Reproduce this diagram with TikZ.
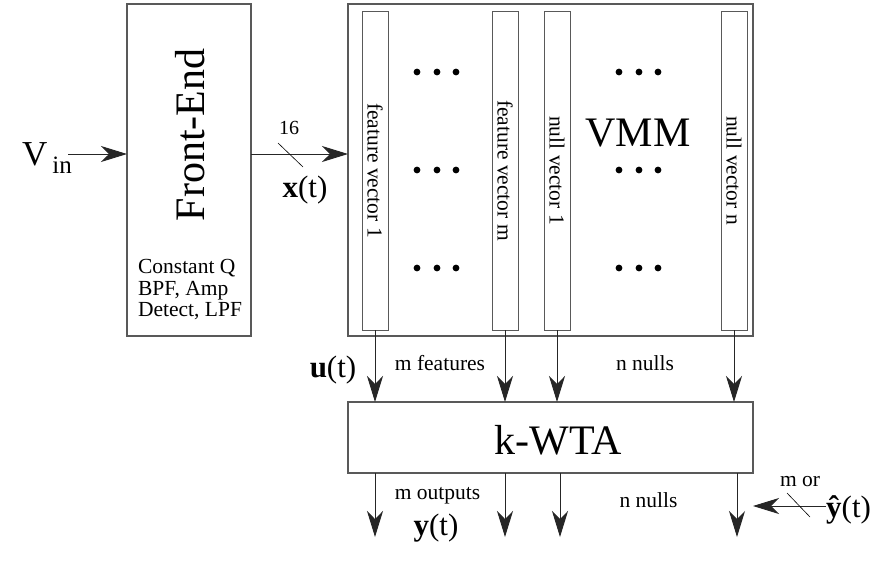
\documentclass[tikz,border=0pt]{standalone}
\usepackage{fontspec}
\setmainfont{Liberation Serif}
\usetikzlibrary{arrows.meta}
\newcommand\fsz[1]{\fontsize{#1}{#1}\selectfont}
\begin{document}
\begin{tikzpicture}[x=1pt,y=-1pt,
  box/.style={draw=black!65, line width=1.1pt, inner sep=0pt, outer sep=0pt},
  bar/.style={draw=black!65, line width=1pt, minimum width=26pt, minimum height=319pt, inner sep=0pt, outer sep=0pt},
  arr/.style={line width=0.9pt, black!85, -{Stealth[length=26pt,width=16pt,inset=8pt]}},
  small/.style={font=\fsz{21.5}, inner sep=0pt},
  big/.style={font=\fsz{42}, inner sep=0pt},
  mid/.style={font=\fsz{31}, inner sep=0pt},
  dot/.style={circle, fill=black, inner sep=0pt, minimum size=6.8pt}
]
\useasboundingbox (0,0) rectangle (896,560);
\fill[white] (0,0) rectangle (896,560);

% Front-End
\node[box, minimum width=124pt, minimum height=332pt] (fe) at (189,170) {};
\node[big, rotate=90] (fet) at (190,135) {Front-End};
\node[small, align=left] (fed) at (190,290) {\fsz{21.5}\baselineskip=23pt Constant Q\\BPF, Amp\\Detect, LPF};

% V_in
\node[inner sep=0pt, anchor=base west, font=\fsz{35}] (vin) at (22,165) {V\hspace{5pt}\raisebox{-8pt}{\fsz{25}in}};
\coordinate (vs) at (68,154);
\draw[arr] (vs) -- (vs -| fe.west);

% VMM
\node[box, minimum width=405pt, minimum height=332pt] (vmm) at (550.5,170) {};
\node[bar] (b1) at (375,170.5) {};
\node[bar] (b2) at (505,170.5) {};
\node[bar] (b3) at (557,170.5) {};
\node[bar] (b4) at (734,170.5) {};
\node[small, rotate=-90] (t1) at (b1) {feature vector 1};
\node[small, rotate=-90] (t2) at (b2) {feature vector m};
\node[small, rotate=-90] (t3) at (b3) {null vector 1};
\node[small, rotate=-90] (t4) at (b4) {null vector n};
\node[big] (vmmt) at (638,133) {VMM};
\foreach \y [count=\i] in {72,170,268}{
  \node[dot] (da\i) at (417,\y) {};
  \node[dot] (db\i) at (437,\y) {};
  \node[dot] (dc\i) at (456,\y) {};
  \node[dot] (dd\i) at (619,\y) {};
  \node[dot] (de\i) at (639,\y) {};
  \node[dot] (df\i) at (658,\y) {};
}

% x(t)
\coordinate (xs) at (fe.east |- 0,154);
\draw[arr] (xs) -- (xs -| vmm.west);
\coordinate (s1) at (278,143);
\coordinate (s2) at (303,167);
\draw[line width=0.6pt] (s1) -- (s2);
\node[font=\fsz{20}, inner sep=0pt] (n16) at (289,128) {16};
\node[mid] (xt) at (305,190) {\textbf{x}(t)};

% k-WTA
\node[box, minimum width=405pt, minimum height=71pt] (wta) at (550.5,437.5) {};
\node[big] (wtat) at (558,440) {k-WTA};

% VMM -> k-WTA
\foreach \b in {b1,b2,b3,b4}{
  \draw[arr] (\b.south) -- (\b.south |- wta.north);
}
\node[mid] (ut) at (333,370) {\textbf{u}(t)};
\node[small] (mf) at (440,363) {m features};
\node[small] (nn1) at (645,363) {n nulls};

% outputs
\coordinate (o1) at (375,537);
\coordinate (o2) at (505,537);
\coordinate (o3) at (560,537);
\coordinate (o4) at (737,537);
\foreach \o in {o1,o2,o3,o4}{
  \draw[arr] (wta.south -| \o) -- (\o);
}
\node[small] (mo) at (437.5,496) {m outputs};
\node[mid] (yt) at (436,528) {\textbf{y}(t)};
\node[small] (nn2) at (648.5,500) {n nulls};

% feedback
\node[mid, anchor=west] (yh) at (826,510) {\textbf{ŷ}(t)};
\coordinate (fb) at (753,506);
\draw[arr] (yh.west |- fb) -- (fb);
\coordinate (s3) at (787,493);
\coordinate (s4) at (810,517);
\draw[line width=0.6pt] (s3) -- (s4);
\node[small] (mor) at (800,482) {m or};
\end{tikzpicture}
\end{document}
